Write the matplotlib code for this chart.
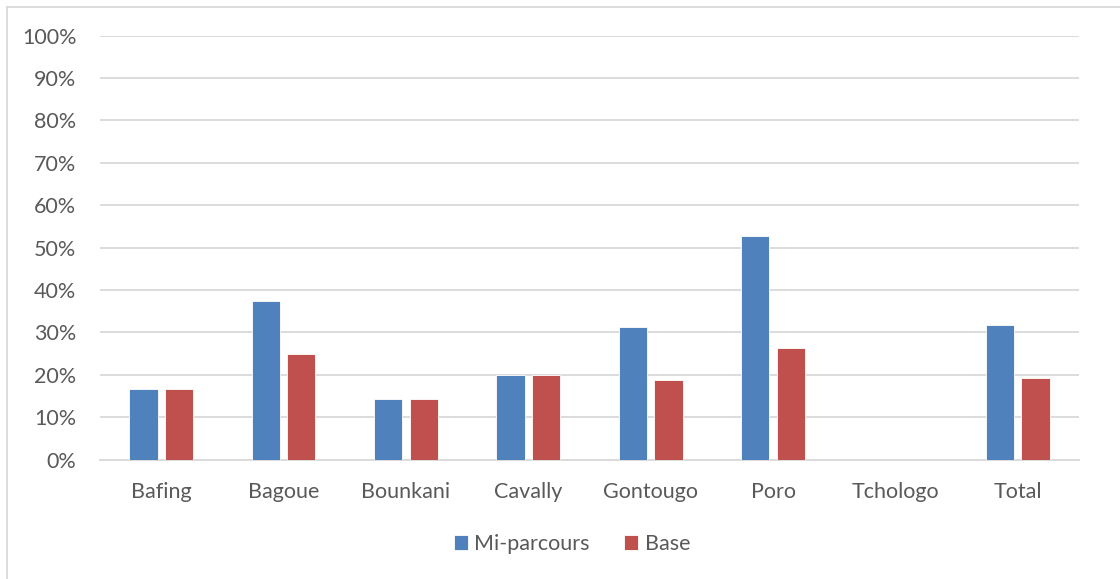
import matplotlib
matplotlib.use('Agg')
import matplotlib.pyplot as plt
from matplotlib.lines import Line2D
from matplotlib.ticker import MultipleLocator, PercentFormatter
import numpy as np

plt.rcParams['font.family'] = ['Lato', 'DejaVu Sans']

regions = ['Bafing', 'Bagoue', 'Bounkani', 'Cavally', 'Gontougo', 'Poro', 'Tchologo', 'Total']
mi_parcours = [16.67, 37.5, 14.29, 20.0, 31.25, 52.63, 0.0, 31.8]
base = [16.67, 25.0, 14.29, 20.0, 18.75, 26.32, 0.0, 19.3]

blue = '#4f81bd'
red = '#c0504d'
txt = '#595959'
grid = '#d9d9d9'

fig = plt.figure(figsize=(11.2, 5.79), dpi=100)
ax = fig.add_axes([100/1120, 1 - 459.5/579, 979/1120, 424/579])

x = np.arange(len(regions))
w = 0.23
ax.bar(x - 0.145, mi_parcours, w, color=blue, edgecolor='white', linewidth=0.6, label='Mi-parcours', zorder=3)
ax.bar(x + 0.145, base, w, color=red, edgecolor='white', linewidth=0.6, label='Base', zorder=3)

ax.set_xlim(-0.5, len(regions) - 0.5)
ax.set_ylim(0, 100)
ax.yaxis.set_major_locator(MultipleLocator(10))
ax.yaxis.set_major_formatter(PercentFormatter(decimals=0))
ax.grid(axis='y', color=grid, linewidth=1.3, zorder=0)
ax.set_xticks(x)
ax.set_xticklabels(regions)
for s in ['top', 'right', 'left']:
    ax.spines[s].set_visible(False)
ax.spines['bottom'].set_color(grid)
ax.spines['bottom'].set_linewidth(1.3)
ax.tick_params(axis='both', length=0, labelsize=15.5, colors=txt)
ax.tick_params(axis='x', pad=16)
ax.tick_params(axis='y', pad=17)

ax.legend(loc='center', bbox_to_anchor=(572/1120, 1 - 544/579), bbox_transform=fig.transFigure,
          ncol=2, frameon=False, fontsize=15.5, labelcolor=txt, handlelength=0.65,
          handleheight=0.65, handletextpad=0.3, columnspacing=1.6)

# chart border (left and top edges)
fig.add_artist(Line2D([6.5/1120, 6.5/1120], [0, 1 - 6.5/579], transform=fig.transFigure, color=grid, lw=1.3))
fig.add_artist(Line2D([6.5/1120, 1], [1 - 6.5/579, 1 - 6.5/579], transform=fig.transFigure, color=grid, lw=1.3))

fig.savefig('out.png', dpi=100)
